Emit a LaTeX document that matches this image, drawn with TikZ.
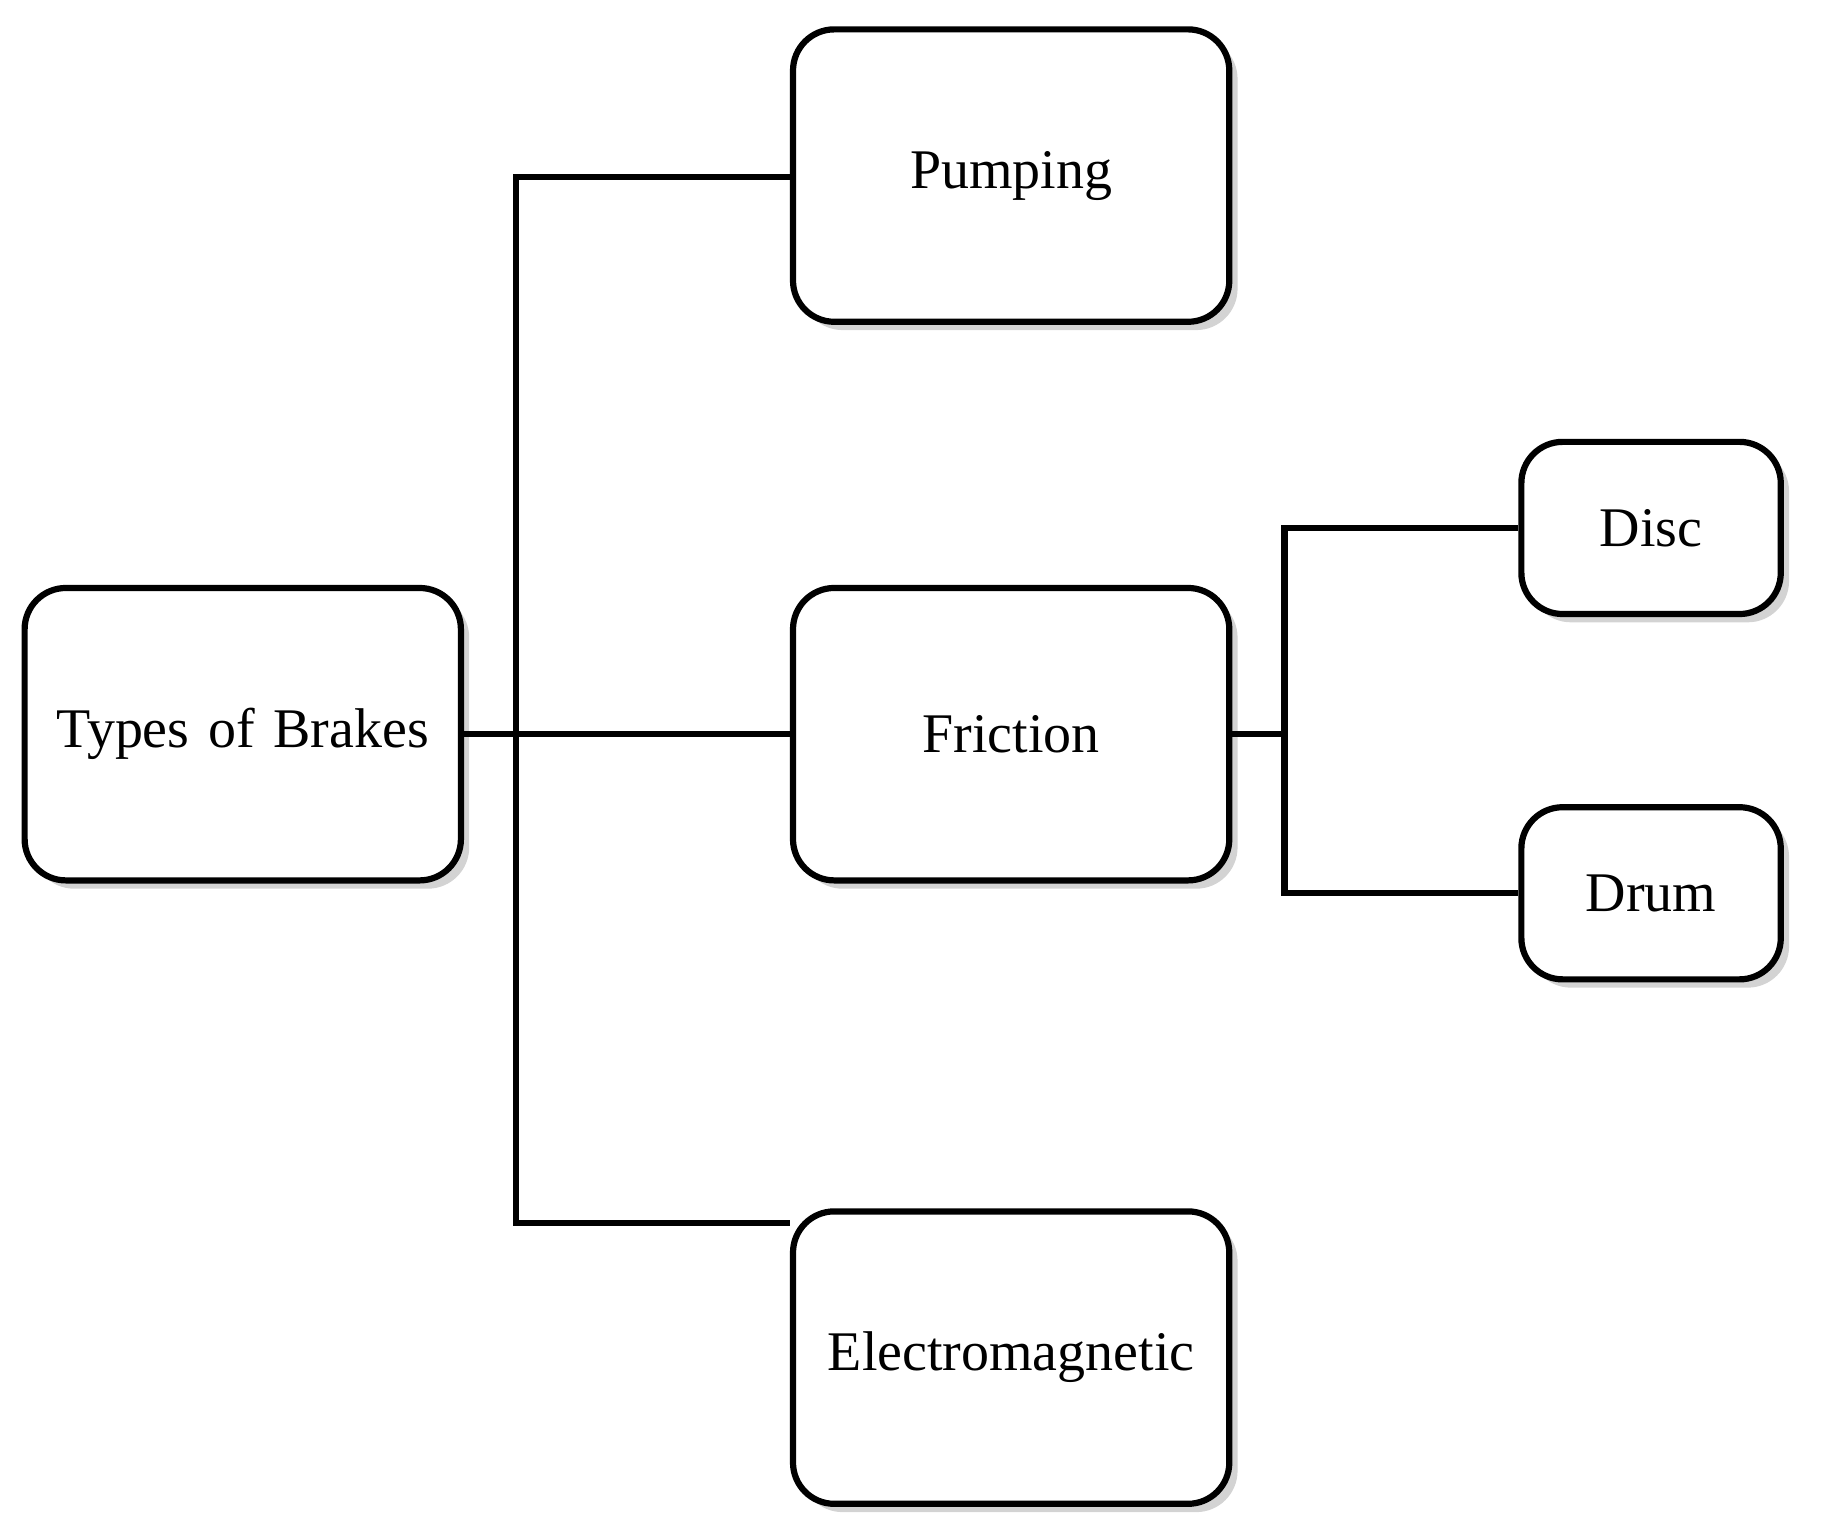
\documentclass[tikz,border=0pt]{standalone}
\usepackage{fontspec}
\setmainfont{Liberation Serif}
\usetikzlibrary{shadows}
\begin{document}
\begin{tikzpicture}[x=0.01cm,y=-0.01cm,
  box/.style={draw,line width=1.5pt,rounded corners=0.35cm,fill=white,
    drop shadow={shadow xshift=2pt,shadow yshift=-2pt,opacity=0.35},
    font=\fontsize{13.5}{16}\selectfont,inner sep=0pt},
  big/.style={box,text width=3.6cm,align=center,minimum width=3.7cm,minimum height=2.48cm},
  small/.style={box,minimum width=2.2cm,minimum height=1.46cm},
  link/.style={line width=1.5pt}]
\useasboundingbox (0,0) rectangle (1552,1286);
\node[big] (types) at (206,623) {Types of Brakes};
\node[big] (pump) at (858,149) {Pumping};
\node[big] (fric) at (858,623) {Friction};
\node[big] (elec) at (858,1152) {Electromagnetic};
\node[small] (disc) at (1401,448) {Disc};
\node[small] (drum) at (1401,758) {Drum};
\coordinate (t1) at (438,150);
\coordinate (t2) at (438,1038);
\coordinate (b1) at (1090,448);
\coordinate (b2) at (1090,758);
\draw[link] (types.east) -- (fric.west);
\draw[link] (pump.west |- t1) -- (t1) -- (t2) -- (elec.west |- t2);
\draw[link] (fric.east) -- (b1 |- fric.east);
\draw[link] (disc.west) -- (b1) -- (b2) -- (drum.west);
\end{tikzpicture}
\end{document}
